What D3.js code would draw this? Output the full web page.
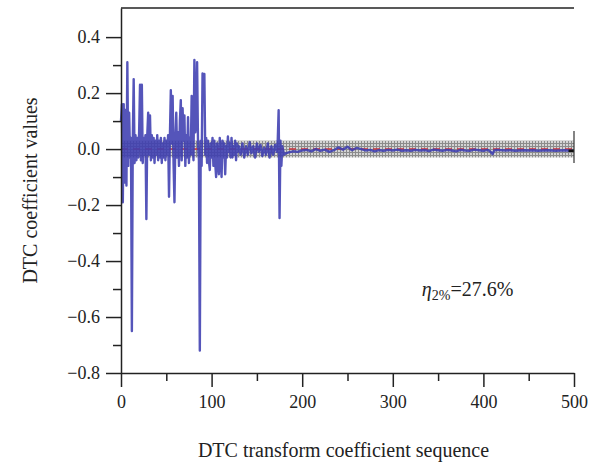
<!DOCTYPE html>
<html>
<head>
<meta charset="utf-8">
<script src="https://cdn.jsdelivr.net/npm/d3@7"></script>
<style>
  body { margin: 0; background: #fff; }
  svg text { font-family: "Liberation Serif", "DejaVu Serif", serif; fill: #222; }
</style>
</head>
<body>
<svg id="chart" width="611" height="466"></svg>
<script>
// coefficient index / value pairs
var seqIdx = [0,1,2,3,4,5,6,7,8,9,10,11,12,13,14,15,16,17,18,19,20,21,22,23,24,25,26,27,28,29,
  30,31,32,33,34,35,36,37,38,39,40,41,42,43,44,45,46,47,48,49,50,51,52,53,54,55,56,57,58,59,
  60,61,62,63,64,65,66,67,68,69,70,71,72,73,74,75,76,77,78,79,80,81,82,83,84,85,86,87,88,89,
  90,91,92,93,94,95,96,97,98,99,100,101,102,103,104,105,106,107,108,109,110,111,112,113,114,115,116,117,118,119,
  120,121,122,123,124,125,126,127,128,129,130,132,134,136,138,140,142,144,146,148,150,152,154,156,158,160,162,164,166,168,
  170,172,173,174,175,176,177,178,180,182,185,190,195,200,205,210,215,220,225,230,235,240,245,250,255,260,265,270,275,280,
  285,290,295,300,305,310,315,320,325,330,335,340,345,350,355,360,365,370,375,380,385,390,395,400,405,408,410,412,415,420,
  425,430,435,440,445,450,455,460,465,470,475,480,485,490,495,500];
var seqVal = [0.10,0.16,-0.19,0.16,-0.12,0.14,-0.13,0.31,-0.06,0.13,-0.03,0.04,-0.65,0.03,0.25,-0.05,0.05,-0.04,0.04,-0.03,
  0.06,0.23,-0.04,0.23,-0.05,0.04,-0.02,0.05,-0.25,0.05,0.13,-0.02,0.12,-0.04,0.05,-0.03,0.04,-0.05,0.03,-0.02,
  0.05,-0.04,0.03,-0.03,0.04,-0.05,0.02,-0.03,0.04,-0.04,0.03,-0.02,0.05,-0.17,0.05,0.21,0.02,0.19,-0.05,-0.19,
  0.04,0.13,-0.03,0.06,-0.06,0.10,0.175,-0.04,0.146,0.03,0.12,-0.06,0.05,-0.03,0.114,-0.05,0.04,-0.02,0.19,0.02,
  -0.04,0.318,0.06,0.10,0.31,0.02,-0.04,-0.72,0.03,-0.06,0.27,0.20,0.268,-0.02,0.04,-0.05,0.03,-0.04,-0.075,0.02,
  -0.03,0.04,-0.06,0.03,-0.05,-0.10,0.02,-0.04,-0.09,0.04,-0.02,-0.10,0.03,-0.03,0.02,-0.09,0.01,-0.03,0.045,-0.01,
  0.02,-0.03,0.04,-0.03,0.01,-0.02,0.03,-0.04,0.02,-0.01,0.01,-0.02,0.02,-0.03,0.01,-0.02,0.025,-0.015,0.01,-0.03,
  0.02,-0.01,0.015,-0.025,0.005,-0.02,0.02,-0.03,0.01,-0.02,0.015,-0.01,0.03,0.139,-0.246,0.03,-0.06,0.01,-0.02,-0.015,
  -0.012,-0.008,-0.01,-0.005,-0.003,-0.008,0.0,-0.006,-0.002,-0.01,-0.004,0.006,-0.002,0.008,-0.004,0.004,0.0,-0.005,-0.003,-0.008,
  -0.004,-0.006,-0.003,-0.005,-0.002,-0.006,-0.004,-0.006,-0.003,-0.005,-0.004,-0.007,-0.002,-0.004,-0.006,-0.003,-0.005,-0.008,-0.003,-0.005,
  -0.006,-0.002,-0.004,-0.006,-0.003,-0.01,-0.018,-0.005,-0.003,-0.004,-0.005,-0.004,-0.006,-0.005,-0.004,-0.005,-0.004,-0.006,-0.005,-0.004,
  -0.005,-0.006,-0.005,-0.004,-0.006,-0.006];

var bandLimits = [-0.03, 0.03];
var xTicks = [0,100,200,300,400,500];
var xMinor = [50,150,250,350,450];
var yTicks = [-0.8,-0.6,-0.4,-0.2,0.0,0.2,0.4];
var yMinor = [-0.7,-0.5,-0.3,-0.1,0.1,0.3];

var margin = {top: 8, right: 37, bottom: 93, left: 121};
var width = 611 - margin.left - margin.right;
var height = 466 - margin.top - margin.bottom;
var serif = "'Liberation Serif', 'DejaVu Serif', serif";

var svg = d3.select("#chart");

// grid hatch for the threshold band
var pat = svg.append("defs").append("pattern")
    .attr("id","hatch")
    .attr("patternUnits","userSpaceOnUse")
    .attr("width",3).attr("height",3);
pat.append("rect").attr("width",3).attr("height",3).attr("fill","#d4d4d4");
pat.append("path").attr("d","M0,0.5H3M0.5,0V3").attr("stroke","#8c8c8c").attr("stroke-width",1);

var g = svg.append("g")
    .attr("transform","translate(" + margin.left + "," + margin.top + ")");

var x = d3.scaleLinear().domain([0,500]).range([0,width]);
var y = d3.scaleLinear().domain([-0.8,0.504]).range([height,0]);

// band
g.append("rect")
    .attr("x",x(0))
    .attr("y",y(bandLimits[1]))
    .attr("width",x(500)-x(0))
    .attr("height",y(bandLimits[0])-y(bandLimits[1]))
    .attr("fill","url(#hatch)");

// zero line
g.append("line")
    .attr("x1",x(0)).attr("x2",x(500))
    .attr("y1",y(0)).attr("y2",y(0))
    .style("stroke","#c8323c")
    .style("stroke-width","1.5px")
    .style("stroke-dasharray","7,5");

var data = seqIdx.map(function(d,i){ return {x:d, y:seqVal[i]}; });

const line = d3.line()
    .x(function(d){return x(d.x);})
    .y(function(d){return y(d.y);});

g.append("path")
    .datum(data)
    .attr("d",line)
    .style("fill","none")
    .style("stroke","#3e3eb0")
    .style("stroke-opacity",0.88)
    .style("stroke-width","2.4px")
    .style("stroke-linejoin","round");

// end marker and right edge bar
g.append("line")
    .attr("x1",x(494)).attr("x2",x(500))
    .attr("y1",y(-0.006)).attr("y2",y(-0.006))
    .style("stroke","#111").style("stroke-width","2.5px");
g.append("line")
    .attr("x1",x(500)).attr("x2",x(500))
    .attr("y1",y(0.065)).attr("y2",y(-0.05))
    .style("stroke","#333").style("stroke-width","1.2px");

// top frame line
g.append("line")
    .attr("x1",0).attr("x2",width)
    .attr("y1",0).attr("y2",0)
    .style("stroke","#222").style("stroke-width","1.5px");

// axes
g.append("g")
    .attr("transform","translate(0," + height + ")")
    .call(d3.axisBottom(x).tickValues(xMinor).tickSize(8).tickFormat(""))
    .call(function(a){ a.select(".domain").remove(); });
g.append("g")
    .attr("transform","translate(0," + height + ")")
    .attr("class","major")
    .call(d3.axisBottom(x).tickValues(xTicks).tickSize(14).tickSizeOuter(0).tickPadding(8).tickFormat(d3.format("d")));

g.append("g")
    .call(d3.axisLeft(y).tickValues(yMinor).tickSize(8).tickFormat(""))
    .call(function(a){ a.select(".domain").remove(); });
g.append("g")
    .attr("class","major")
    .call(d3.axisLeft(y).tickValues(yTicks).tickSize(15).tickSizeOuter(0).tickPadding(6).tickFormat(d3.format(".1f")));

g.selectAll(".major").attr("font-family",serif).attr("font-size",18);
g.selectAll(".domain, .tick line").style("stroke","#222").style("stroke-width","1.5px");
g.selectAll(".tick text").style("font-size","18px").style("font-family",serif).style("fill","#222");

// axis titles
g.append("text")
    .attr("x",width/2 - 4)
    .attr("y",height + 84)
    .attr("text-anchor","middle")
    .style("font-size","20px")
    .text("DTC transform coefficient sequence");

g.append("text")
    .attr("transform","translate(" + (-84) + "," + (height/2) + ") rotate(-90)")
    .attr("text-anchor","middle")
    .style("font-size","20px")
    .text("DTC coefficient values");

// annotation
var ann = g.append("text")
    .attr("x",x(332))
    .attr("y",y(-0.525))
    .style("font-size","20px");
ann.append("tspan").style("font-style","italic").text("η");
ann.append("tspan").attr("dy",4).style("font-size","14px").text("2%");
ann.append("tspan").attr("dy",-4).text("=27.6%");
</script>
</body>
</html>
